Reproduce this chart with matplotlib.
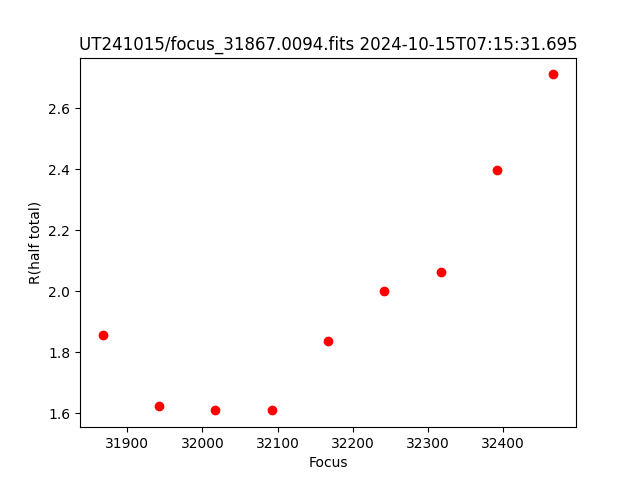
import numpy as np
import matplotlib
matplotlib.use('Agg')
import matplotlib.pyplot as plt

## Focus positions and measured half-total radius
focus = [31867, 31942, 32017, 32092, 32167, 32242, 32317, 32392, 32467]
r_half = [1.857, 1.624, 1.610, 1.610, 1.837, 2.000, 2.062, 2.398, 2.711]
title = 'UT241015/focus_31867.0094.fits 2024-10-15T07:15:31.695'

plt.figure(figsize=(6.4, 4.8), dpi=100)
plt.plot(focus, r_half, 'ro')
plt.xlabel('Focus')
plt.ylabel('R(half total)')
plt.title(title)
plt.savefig('out.png')
